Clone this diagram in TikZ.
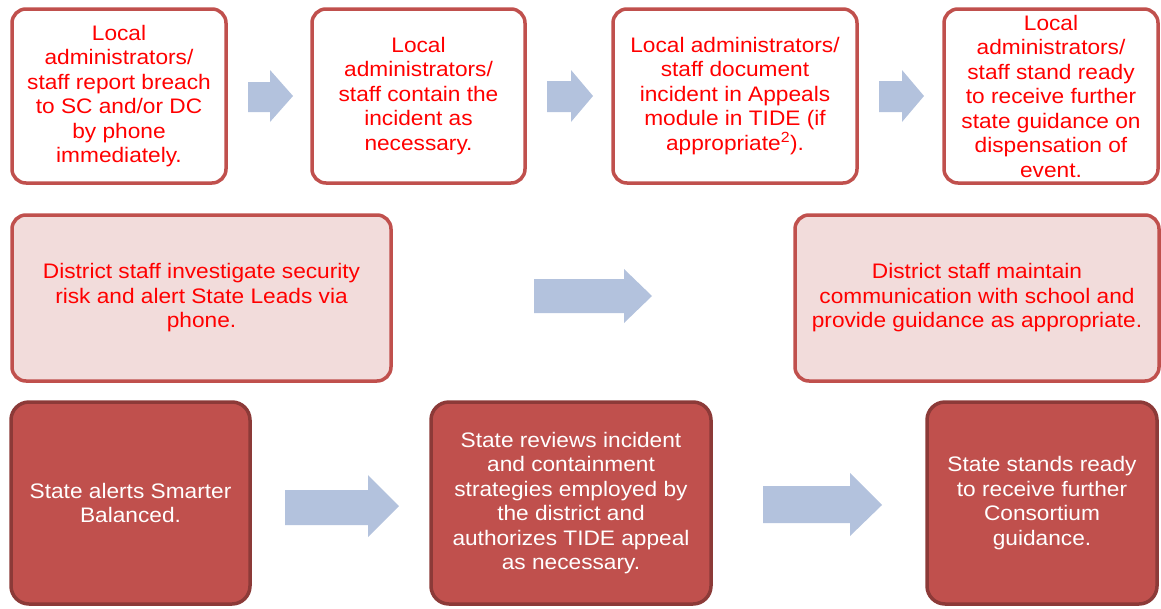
\documentclass[tikz,border=0pt]{standalone}
\usepackage{fontspec}
\setmainfont{Liberation Sans}[FakeStretch=1.08]
\definecolor{boxred}{HTML}{C0504D}
\definecolor{darkred}{HTML}{8C3A38}
\definecolor{pinkfill}{HTML}{F2DCDB}
\definecolor{arrowblue}{HTML}{B3C2DD}
\definecolor{textred}{HTML}{FF0000}
\tikzset{
  box/.style={draw=boxred, line width=3.5pt, rounded corners=14pt, align=center, inner sep=0pt,
    font=\fontsize{21}{24.5}\selectfont},
  topbox/.style={box, fill=white, text=textred},
  midbox/.style={box, fill=pinkfill, text=textred},
  botbox/.style={box, fill=boxred, draw=darkred, text=white, rounded corners=18pt},
  blockarrow/.style={fill=arrowblue}
}
\begin{document}
\begin{tikzpicture}[x=1pt,y=-1pt]
\useasboundingbox (0,0) rectangle (1161,608);
% row 1
\node[topbox, minimum width=214pt, minimum height=174pt] (b1) at (119,96)
  {Local\\administrators/\\staff report breach\\to SC and/or DC\\by phone\\immediately.};
\node[topbox, minimum width=213pt, minimum height=174pt] (b2) at (418.5,96)
  {Local\\administrators/\\staff contain the\\incident as\\necessary.};
\node[topbox, minimum width=244pt, minimum height=174pt] (b3) at (735,96)
  {Local administrators/\\staff document\\incident in Appeals\\module in TIDE (if\\appropriate\textsuperscript{2}).};
\node[topbox, minimum width=214pt, minimum height=174pt] (b4) at (1051,96)
  {Local\\administrators/\\staff stand ready\\to receive further\\state guidance on\\dispensation of\\event.};
% row 2
\node[midbox, minimum width=379pt, minimum height=166pt] (b5) at (201.5,298)
  {District staff investigate security\\risk and alert State Leads via\\phone.};
\node[midbox, minimum width=364pt, minimum height=166pt] (b6) at (977,298)
  {District staff maintain\\communication with school and\\provide guidance as appropriate.};
% row 3
\node[botbox, minimum width=239pt, minimum height=202pt] (b7) at (130.5,503)
  {State alerts Smarter\\Balanced.};
\node[botbox, minimum width=280pt, minimum height=202pt] (b8) at (571,503)
  {State reviews incident\\and containment\\strategies employed by\\the district and\\authorizes TIDE appeal\\as necessary.};
\node[botbox, minimum width=230pt, minimum height=202pt] (b9) at (1042,503)
  {State stands ready\\to receive further\\Consortium\\guidance.};
% block arrows
\fill[blockarrow] (248,82) -- (270,82) -- (270,70) -- (293,96) -- (270,122) -- (270,112) -- (248,112) -- cycle;
\fill[blockarrow] (547,81) -- (571,81) -- (571,70) -- (593,96) -- (571,122) -- (571,112) -- (547,112) -- cycle;
\fill[blockarrow] (879,81) -- (902,81) -- (902,70) -- (924,96) -- (902,122) -- (902,112) -- (879,112) -- cycle;
\fill[blockarrow] (534,279) -- (624,279) -- (624,269) -- (652,296) -- (624,323) -- (624,313) -- (534,313) -- cycle;
\fill[blockarrow] (285,490) -- (368,490) -- (368,475) -- (399,506) -- (368,537) -- (368,525) -- (285,525) -- cycle;
\fill[blockarrow] (763,486) -- (850,486) -- (850,473) -- (882,505) -- (850,536) -- (850,523) -- (763,523) -- cycle;
\end{tikzpicture}
\end{document}
